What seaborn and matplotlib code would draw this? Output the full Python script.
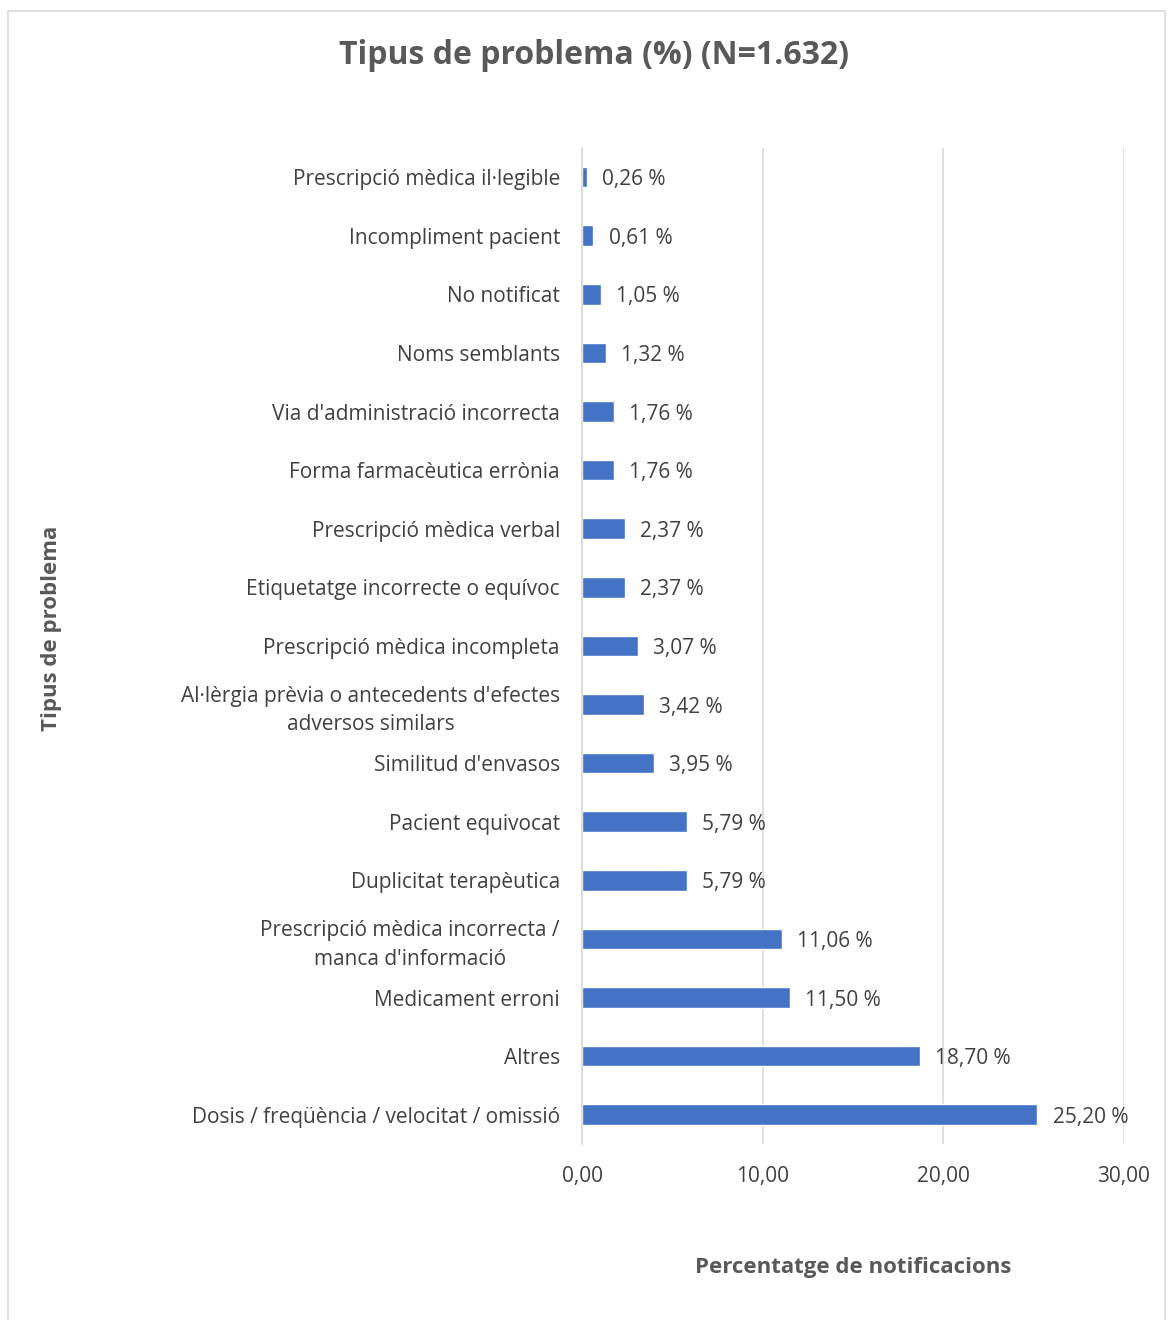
import matplotlib
matplotlib.use("Agg")
import matplotlib.pyplot as plt
import seaborn as sns
import pandas as pd
from matplotlib.patches import Rectangle

categories = [
    "Prescripció mèdica il·legible",
    "Incompliment pacient",
    "No notificat",
    "Noms semblants",
    "Via d'administració incorrecta",
    "Forma farmacèutica errònia",
    "Prescripció mèdica verbal",
    "Etiquetatge incorrecte o equívoc",
    "Prescripció mèdica incompleta",
    "Al·lèrgia prèvia o antecedents d'efectes\nadversos similars",
    "Similitud d'envasos",
    "Pacient equivocat",
    "Duplicitat terapèutica",
    "Prescripció mèdica incorrecta /\nmanca d'informació",
    "Medicament erroni",
    "Altres",
    "Dosis / freqüència / velocitat / omissió",
]
values = [0.26, 0.61, 1.05, 1.32, 1.76, 1.76, 2.37, 2.37, 3.07, 3.42,
          3.95, 5.79, 5.79, 11.06, 11.50, 18.70, 25.20]
x_ticks = [0, 10, 20, 30]

df = pd.DataFrame({"Tipus": categories, "Percentatge": values})

sns.set_theme(style="white")
plt.rcParams["font.family"] = ["Open Sans", "DejaVu Sans"]

text_color = "#404040"
title_color = "#595959"
bar_color = "#4472C4"

fig = plt.figure(figsize=(11.69, 13.2), dpi=100)
ax = fig.add_axes([0.498, 0.1333, 0.4635, 0.7547])

sns.barplot(data=df, x="Percentatge", y="Tipus", orient="h",
            color=bar_color, width=0.35, saturation=1, ax=ax)

ax.set_xlim(0, 30)
ax.set_xticks(x_ticks)
ax.set_xticklabels([f"{t:.2f}".replace(".", ",") for t in x_ticks],
                   fontsize=15, color=text_color)
ax.tick_params(axis="x", length=0, pad=16)
ax.tick_params(axis="y", length=0, pad=16)
for lbl in ax.get_yticklabels():
    lbl.set_fontsize(15)
    lbl.set_color(text_color)
    lbl.set_multialignment("center")
    lbl.set_linespacing(1.45)

ax.grid(axis="x", color="#D9D9D9", linewidth=1.2)
ax.set_axisbelow(True)
for side in ["top", "right", "bottom"]:
    ax.spines[side].set_visible(False)
ax.spines["left"].set_color("#D9D9D9")
ax.spines["left"].set_linewidth(1.2)

for i, v in enumerate(values):
    ax.text(v + 0.85, i, f"{v:.2f}".replace(".", ",") + " %",
            va="center_baseline", ha="left", fontsize=15, color=text_color)

ax.set_xlabel("Percentatge de notificacions", fontsize=16, fontweight="bold",
              color=title_color, labelpad=50)
ax.set_ylabel("")
fig.text(0.044, 0.524, "Tipus de problema", rotation=90, ha="center",
         va="center", fontsize=16, fontweight="bold", color=title_color)

fig.text(0.508, 0.958, "Tipus de problema (%) (N=1.632)", ha="center",
         va="center", fontsize=23, fontweight="bold", color=title_color)

fig.patches.append(Rectangle((0.007, -0.01), 0.99, 1.002, transform=fig.transFigure,
                             fill=False, edgecolor="#D9D9D9", linewidth=1.2))

fig.savefig("out.png", dpi=100)
